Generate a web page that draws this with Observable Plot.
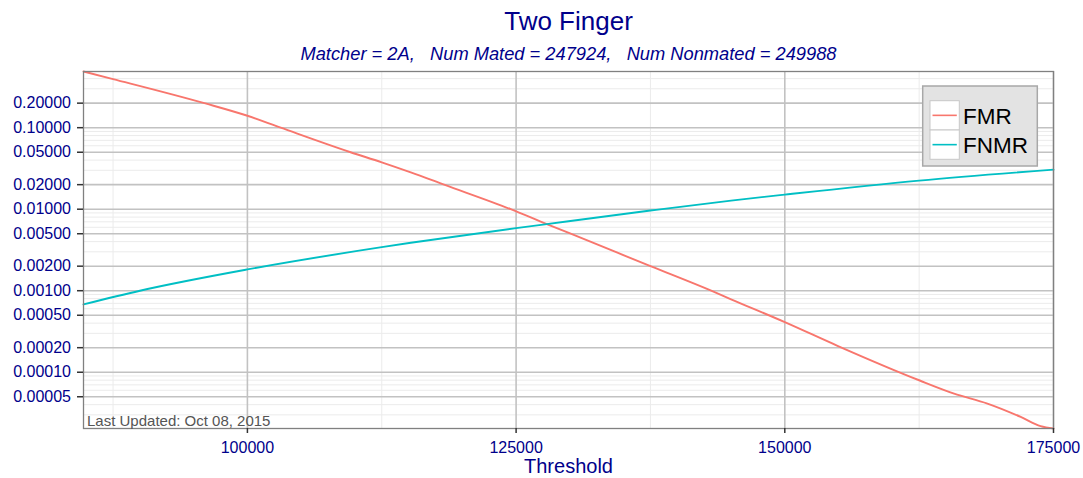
<!DOCTYPE html>
<html><head><meta charset="utf-8">
<script src="https://cdn.jsdelivr.net/npm/d3@7"></script>
<script src="https://cdn.jsdelivr.net/npm/@observablehq/plot@0.6"></script>
<style>body{margin:0;background:#fff}</style>
</head><body><div id="chart"></div><script>
// ---- data ----
const titleText = "Two Finger";
const subtitleText = "Matcher = 2A,   Num Mated = 247924,   Num Nonmated = 249988";
const xLabel = "Threshold";
const footnote = "Last Updated: Oct 08, 2015";
const seriesNames = ["FMR", "FNMR"];
const seriesColors = ["#F8766D", "#00BFC4"];

const fmrThreshold = [84750, 87500, 96000, 100000, 103100, 109600, 112500, 115200, 118300, 124500, 127850, 130080, 137500, 143150, 145000, 150000, 154900, 162500, 165750, 168850, 171950, 173800, 175000];
const fmrRate = [0.489, 0.395, 0.200, 0.140, 0.100, 0.0500, 0.0376, 0.0283, 0.0200, 0.0100, 0.00656, 0.00500, 0.00200, 0.00100, 0.000785, 0.000412, 0.000211, 0.0000797, 0.0000547, 0.0000413, 0.0000283, 0.0000218, 0.0000204];

const fnmrThreshold = [84750, 90000, 100000, 112500, 115200, 125000, 127850, 137500, 145000, 150000, 162500, 175000];
const fnmrRate = [0.000679, 0.00100, 0.001824, 0.00342, 0.00387, 0.00585, 0.00656, 0.00963, 0.01276, 0.01511, 0.02244, 0.0306];

const xTicks = [100000, 125000, 150000, 175000];
const xMinorTicks = [87500, 112500, 137500, 162500];
const yTicks = [0.2, 0.1, 0.05, 0.02, 0.01, 0.005, 0.002, 0.001, 0.0005, 0.0002, 0.0001, 0.00005];

// ---- derived tables ----
const fmrData = fmrThreshold.map((t, i) => ({threshold: t, rate: fmrRate[i], series: "FMR"}));
const fnmrData = fnmrThreshold.map((t, i) => ({threshold: t, rate: fnmrRate[i], series: "FNMR"}));
const allRates = fmrRate.concat(fnmrRate);
const yDomain = [d3.min(allRates), d3.max(allRates)];
const xDomain = d3.extent(fmrThreshold.concat(fnmrThreshold));

const majorSet = new Set(yTicks.map(v => +v.toPrecision(3)));
const yMinor = [];
for (let e = -6; e <= 0; e++) for (let k = 1; k <= 9; k++) {
  const v = +(k * Math.pow(10, e)).toPrecision(3);
  if (v >= yDomain[0] && v <= yDomain[1] && !majorSet.has(v)) yMinor.push(v);
}

const blue = "#00008B";
const font = '"Liberation Sans", Arial, Helvetica, sans-serif';

const chart = Plot.plot({
  width: 1083, height: 478,
  marginLeft: 83, marginRight: 30, marginTop: 71, marginBottom: 50,
  style: {fontFamily: font, background: "#fff"},
  x: {domain: xDomain},
  y: {type: "log", domain: yDomain},
  marks: [
    Plot.ruleY(yMinor, {stroke: "#ebebeb", strokeWidth: 1}),
    Plot.ruleX(xMinorTicks, {stroke: "#ebebeb", strokeWidth: 1}),
    Plot.ruleY(yTicks, {stroke: "#c2c2c2", strokeWidth: 1.6}),
    Plot.ruleX(xTicks, {stroke: "#c2c2c2", strokeWidth: 1.6}),
    Plot.line(fmrData, {x: "threshold", y: "rate", stroke: seriesColors[0], strokeWidth: 1.9, curve: "monotone-x"}),
    Plot.line(fnmrData, {x: "threshold", y: "rate", stroke: seriesColors[1], strokeWidth: 1.9, curve: "monotone-x"}),
    Plot.frame({stroke: "#808080", strokeWidth: 1.3}),
    Plot.axisY(yTicks, {tickFormat: () => "", tickSize: 6, tickPadding: 6, stroke: "#333", strokeWidth: 1.5, label: null}),
    Plot.text(yTicks, {y: d => d, text: d => d.toFixed(5), frameAnchor: "left", dx: -12.5, textAnchor: "end", fontSize: 16, fill: blue}),
    Plot.axisX(xTicks, {tickFormat: d => String(d), tickSize: 5, tickPadding: 8, stroke: "#333", strokeWidth: 1.5, fill: blue, fontSize: 16, label: null}),
    Plot.text([titleText], {text: d => d, frameAnchor: "top", dy: -42, lineAnchor: "bottom", fontSize: 26, fill: blue}),
    Plot.text([subtitleText], {text: d => d, frameAnchor: "top", dy: -12, lineAnchor: "bottom", fontSize: 18.3, fontStyle: "italic", fill: blue}),
    Plot.text([xLabel], {text: d => d, frameAnchor: "bottom", dy: 44.5, lineAnchor: "bottom", fontSize: 20, fill: blue}),
    Plot.text([footnote], {text: d => d, frameAnchor: "bottom-left", dx: 3.5, dy: -2.5, lineAnchor: "bottom", textAnchor: "start", fontSize: 15, fill: "#555"})
  ]
});

// legend (drawn inside the panel, top-right)
const svg = d3.select(chart);
const lg = svg.append("g").attr("font-family", font).attr("text-anchor", "start");
lg.append("rect").attr("x", 922.7).attr("y", 86).attr("width", 114.6).attr("height", 80)
  .attr("fill", "#e3e3e3").attr("stroke", "#a8a8a8").attr("stroke-width", 1.5);
seriesNames.forEach((name, i) => {
  const y0 = 100.7 + i * 29.3;
  lg.append("rect").attr("x", 930).attr("y", y0).attr("width", 29.3).attr("height", 29.3)
    .attr("fill", "#fff").attr("stroke", "#c8c8c8").attr("stroke-width", 1);
  lg.append("line").attr("x1", 932.5).attr("x2", 956.8).attr("y1", y0 + 14.65).attr("y2", y0 + 14.65)
    .attr("stroke", seriesColors[i]).attr("stroke-width", 1.6);
  lg.append("text").attr("x", 963).attr("y", y0 + 22.8).attr("font-size", 22.5).attr("fill", "#000")
    .attr("text-anchor", "start").text(name);
});

document.getElementById("chart").appendChild(chart);
</script></body></html>
